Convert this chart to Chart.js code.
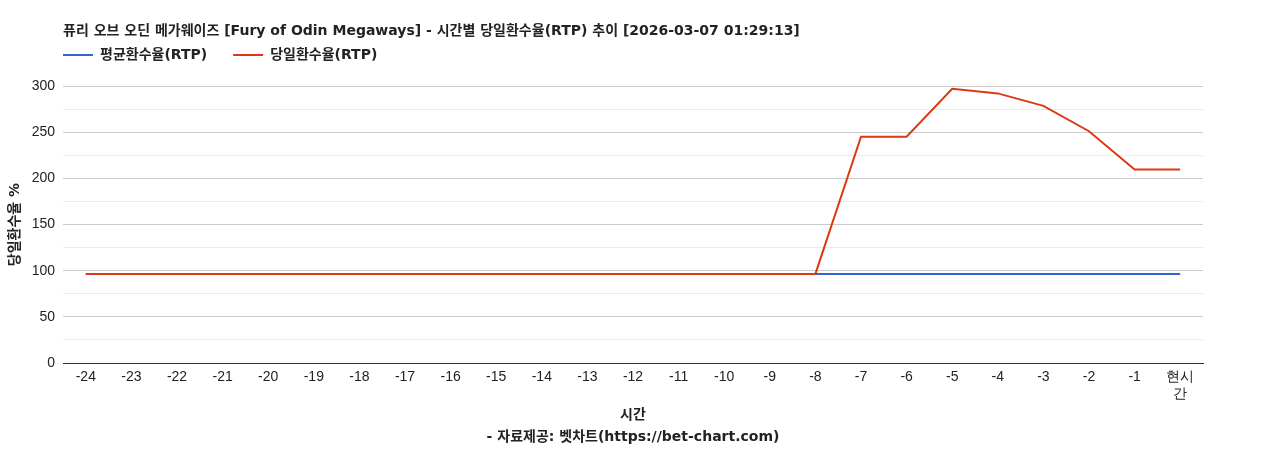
<!DOCTYPE html>
<html>
<head>
<meta charset="utf-8">
<script src="https://cdn.jsdelivr.net/npm/chart.js@4"></script>
<style>
  html, body { margin: 0; padding: 0; background: #fff; }
  #wrap { width: 1268px; height: 450px; position: relative; }
</style>
</head>
<body>
<div id="wrap"><canvas id="rtp"></canvas></div>
<script>
// chart data
const TITLE   = '퓨리 오브 오딘 메가웨이즈 [Fury of Odin Megaways] - 시간별 당일환수율(RTP) 추이 [2026-03-07 01:29:13]';
const HOURS   = ['-24','-23','-22','-21','-20','-19','-18','-17','-16','-15','-14','-13','-12',
                 '-11','-10','-9','-8','-7','-6','-5','-4','-3','-2','-1',['현시','간']];
const AVG_RTP = [96.5,96.5,96.5,96.5,96.5,96.5,96.5,96.5,96.5,96.5,96.5,96.5,96.5,
                 96.5,96.5,96.5,96.5,96.5,96.5,96.5,96.5,96.5,96.5,96.5,96.5];
const DAY_RTP = [96.5,96.5,96.5,96.5,96.5,96.5,96.5,96.5,96.5,96.5,96.5,96.5,96.5,
                 96.5,96.5,96.5,96.5,245,245,297,292,278.5,251,209.5,209.5];
const Y_TITLE = '당일환수율 %';
const X_TITLE = '시간';
const SOURCE  = '- 자료제공: 벳차트(https://bet-chart.com)';

const BLUE = '#3366cc', RED = '#dc3912';
const TXT  = '#222';
const BOLD = 'bold 14px "DejaVu Sans", "Noto Sans CJK KR", sans-serif';

// title, legend and axis titles drawn on the canvas
const labelsPlugin = {
  id: 'labels',
  afterDraw(chart) {
    const { ctx, chartArea: a } = chart;
    ctx.save();
    ctx.fillStyle = TXT;
    ctx.font = BOLD;
    ctx.textBaseline = 'middle';
    ctx.textAlign = 'left';
    ctx.fillText(TITLE, a.left, 31);

    // legend
    let x = a.left;
    chart.data.datasets.forEach(ds => {
      ctx.strokeStyle = ds.borderColor;
      ctx.lineWidth = 2;
      ctx.beginPath();
      ctx.moveTo(x, 55); ctx.lineTo(x + 30, 55);
      ctx.stroke();
      ctx.fillStyle = TXT;
      ctx.fillText(ds.label, x + 37, 55);
      x += 37 + ctx.measureText(ds.label).width + 26;
    });

    // axis titles
    ctx.textAlign = 'center';
    ctx.fillText(X_TITLE, (a.left + a.right) / 2, 415);
    ctx.fillText(SOURCE, (a.left + a.right) / 2, 437);
    ctx.translate(15, (a.top + a.bottom) / 2);
    ctx.rotate(-Math.PI / 2);
    ctx.fillText(Y_TITLE, 0, 0);
    ctx.restore();
  }
};

new Chart(document.getElementById('rtp'), {
  type: 'line',
  data: {
    labels: HOURS,
    datasets: [
      { label: '평균환수율(RTP)', data: AVG_RTP, borderColor: BLUE, backgroundColor: BLUE,
        borderWidth: 2, pointRadius: 0, tension: 0, order: 2 },
      { label: '당일환수율(RTP)', data: DAY_RTP, borderColor: RED, backgroundColor: RED,
        borderWidth: 2, pointRadius: 0, tension: 0, order: 1 }
    ]
  },
  options: {
    responsive: true,
    maintainAspectRatio: false,
    animation: false,
    layout: { padding: { left: 0, right: 65, top: 86, bottom: 0 } },
    plugins: { legend: { display: false }, tooltip: { enabled: false } },
    scales: {
      x: {
        offset: true,
        afterFit: s => { s.height = 87; },
        grid: { display: false, drawTicks: false },
        border: { color: '#333', width: 1 },
        ticks: { color: TXT, padding: 6, maxRotation: 0, autoSkip: false,
                 font: { family: '"Liberation Sans", Arial, sans-serif', size: 14 } }
      },
      y: {
        min: 0, max: 300,
        afterFit: s => { s.width = 63; },
        border: { display: false },
        grid: {
          drawTicks: false,
          color: c => c.tick.value === 0 ? '#333' : (c.tick.value % 50 === 0 ? '#cccccc' : '#ebebeb')
        },
        ticks: { stepSize: 25, color: TXT, padding: 8,
                 font: { family: '"Liberation Sans", Arial, sans-serif', size: 14 },
                 callback: v => v % 50 === 0 ? v : '' }
      }
    }
  },
  plugins: [labelsPlugin]
});
</script>
</body>
</html>
